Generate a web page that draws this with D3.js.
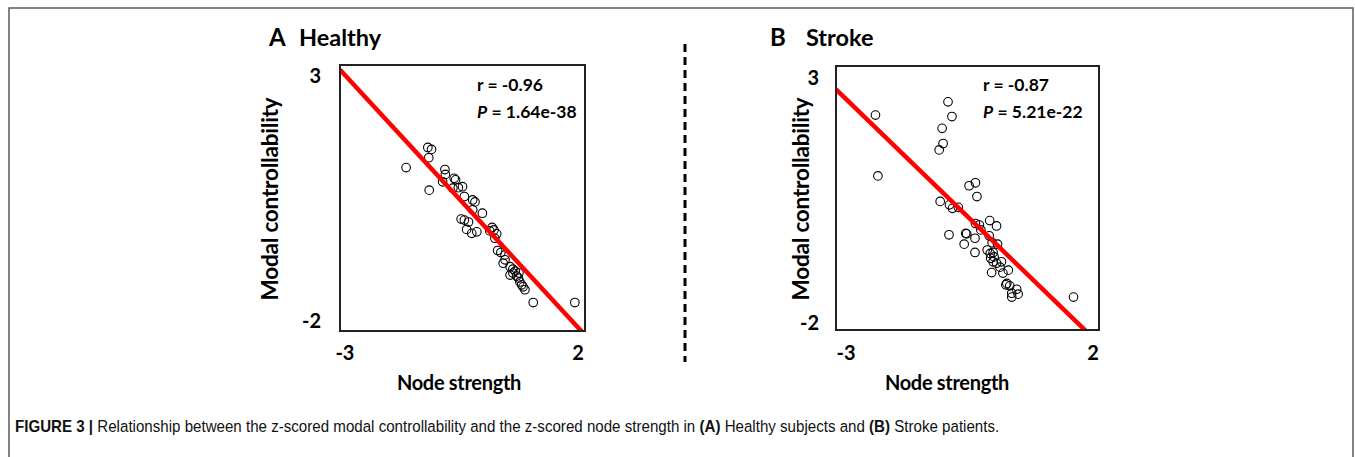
<!DOCTYPE html>
<html>
<head>
<meta charset="utf-8">
<script src="https://cdn.jsdelivr.net/npm/d3@7"></script>
<style>
  body { margin: 0; background: #fff; }
  svg { display: block; }
</style>
</head>
<body>
<svg id="chart" width="1355" height="457"></svg>
<script>
// Chart values
const panelLetters = ["A", "B"];
const panelNames = ["Healthy", "Stroke"];
const xTicks = [-3, 2];
const yTicks = [3, -2];
const rValues = ["-0.96", "-0.87"];
const pValues = ["1.64e-38", "5.21e-22"];
const fitSlopes = [-1.02, -0.966];
const fitIntercepts = [-0.11, -0.39];

// z-scored node strength / modal controllability, healthy subjects
const healthyPoints = [
  [-1.72, 1.11], [-1.25, 1.52], [-1.17, 1.48], [-1.23, 1.31], [-1.22, 0.65],
  [-0.88, 1.07], [-0.87, 0.97], [-0.93, 0.82], [-0.68, 0.89], [-0.65, 0.86],
  [-0.71, 0.69], [-0.59, 0.70], [-0.50, 0.72], [-0.46, 0.52], [-0.28, 0.45],
  [-0.23, 0.41], [-0.28, 0.25], [-0.07, 0.18], [-0.53, 0.06], [-0.46, 0.04],
  [-0.37, 0.00], [-0.41, -0.15], [-0.19, -0.20], [-0.30, -0.23], [0.14, -0.11],
  [0.09, -0.18], [0.18, -0.16], [0.24, -0.24], [0.20, -0.33], [0.26, -0.58],
  [0.33, -0.62], [0.42, -0.67], [0.38, -0.84], [0.42, -0.77], [0.53, -0.91],
  [0.59, -0.96], [0.64, -1.00], [0.53, -1.08], [0.67, -1.10], [0.71, -1.14],
  [0.74, -1.22], [0.78, -1.28], [0.81, -1.32], [0.85, -1.38], [1.03, -1.64],
  [1.93, -1.64], [0.59, -1.04], [0.72, -1.04]
];

// stroke patients
const strokePoints = [
  [-2.44, 2.22], [-2.39, 0.98], [-0.96, 2.49], [-0.88, 2.19], [-1.08, 1.95],
  [-1.06, 1.64], [-1.14, 1.51], [-0.53, 0.78], [-0.40, 0.84], [-0.37, 0.56],
  [-1.12, 0.46], [-0.93, 0.39], [-0.87, 0.32], [-0.75, 0.34], [-0.94, -0.22],
  [-0.60, -0.19], [-0.58, -0.20], [-0.63, -0.41], [-0.41, -0.29], [-0.41, -0.58],
  [-0.40, 0.01], [-0.32, -0.02], [-0.29, -0.12], [-0.11, 0.07], [0.03, -0.04],
  [-0.12, -0.24], [-0.06, -0.38], [0.05, -0.41], [-0.16, -0.53], [-0.10, -0.60],
  [-0.04, -0.58], [-0.09, -0.70], [-0.04, -0.77], [0.03, -0.80], [0.13, -0.77],
  [0.10, -0.88], [-0.07, -0.99], [0.16, -1.00], [0.27, -0.94], [0.24, -1.21],
  [0.30, -1.26], [0.44, -1.33], [0.34, -1.41], [0.47, -1.43], [0.34, -1.49],
  [1.60, -1.49], [-0.02, -0.67], [0.22, -1.24]
];

const pointSets = [healthyPoints, strokePoints];

// Layout
const panels = [
  { box: [340, 65, 585, 331], xDomain: [-3.15, 2.15], yDomain: [-2.22, 3.2],
    titleX: 269, nameX: 299, yLabelX: 278, xLabelX: 459, tickRight: 321, statX: 477 },
  { box: [836, 66, 1099, 330], xDomain: [-3.245, 2.12], yDomain: [-2.16, 3.22],
    titleX: 770, nameX: 806, yLabelX: 809, xLabelX: 947, tickRight: 819, statX: 983 }
];

const FONT = "Lato, 'Open Sans', sans-serif";
const svg = d3.select("#chart");

// outer frame (cut at the bottom)
svg.append("rect")
  .attr("x", 9).attr("y", 8)
  .attr("width", 1344).attr("height", 470)
  .attr("fill", "none").attr("stroke", "#5a5a5a").attr("stroke-width", 1.5);

// dashed separator
svg.append("line")
  .attr("x1", 685).attr("x2", 685).attr("y1", 44).attr("y2", 362)
  .attr("stroke", "#000").attr("stroke-width", 3)
  .attr("stroke-dasharray", "8,5");

panels.forEach((p, i) => {
  const [x0, y0, x1, y1] = p.box;
  const x = d3.scaleLinear().domain(p.xDomain).range([x0, x1]);
  const y = d3.scaleLinear().domain(p.yDomain).range([y1, y0]);
  const g = svg.append("g");

  const clipId = "clip" + i;
  svg.append("clipPath").attr("id", clipId)
    .append("rect").attr("x", x0).attr("y", y0).attr("width", x1 - x0).attr("height", y1 - y0);

  // scatter points
  g.append("g").selectAll("circle")
    .data(pointSets[i])
    .join("circle")
    .attr("cx", d => x(d[0]))
    .attr("cy", d => y(d[1]))
    .attr("r", 4.3)
    .attr("fill", "none")
    .attr("stroke", "#000")
    .attr("stroke-width", 1.1);

  // regression line
  const xs = p.xDomain;
  g.append("line")
    .attr("clip-path", `url(#${clipId})`)
    .attr("x1", x(xs[0])).attr("y1", y(fitIntercepts[i] + fitSlopes[i] * xs[0]))
    .attr("x2", x(xs[1])).attr("y2", y(fitIntercepts[i] + fitSlopes[i] * xs[1]))
    .attr("stroke", "#ff0000").attr("stroke-width", 4.5);

  // box
  g.append("rect")
    .attr("x", x0).attr("y", y0).attr("width", x1 - x0).attr("height", y1 - y0)
    .attr("fill", "none").attr("stroke", "#222").attr("stroke-width", 2);

  // tick labels (no tick marks)
  g.append("g").selectAll("text")
    .data(yTicks)
    .join("text")
    .attr("x", p.tickRight)
    .attr("y", d => y(d) + 1)
    .attr("dy", "0.35em")
    .attr("text-anchor", "end")
    .attr("font-family", FONT).attr("font-weight", 700).attr("font-size", 20)
    .text(d => d);

  g.append("g").selectAll("text")
    .data(xTicks)
    .join("text")
    .attr("x", d => x(d) - (d < 0 ? 2 : 0))
    .attr("y", 360)
    .attr("text-anchor", "middle")
    .attr("font-family", FONT).attr("font-weight", 700).attr("font-size", 20)
    .text(d => d);

  // axis titles
  g.append("text")
    .attr("transform", `translate(${p.yLabelX},${(y0 + y1) / 2 + 1}) rotate(-90)`)
    .attr("text-anchor", "middle")
    .attr("font-family", FONT).attr("font-weight", 700).attr("font-size", 22.5)
    .attr("letter-spacing", -0.2)
    .text("Modal controllability");

  g.append("text")
    .attr("x", p.xLabelX).attr("y", 390)
    .attr("text-anchor", "middle")
    .attr("font-family", FONT).attr("font-weight", 700).attr("font-size", 20)
    .attr("letter-spacing", -0.3)
    .text("Node strength");

  // panel title
  g.append("text")
    .attr("x", p.titleX).attr("y", 46)
    .attr("font-family", FONT).attr("font-weight", 700).attr("font-size", 24)
    .text(panelLetters[i]);
  g.append("text")
    .attr("x", p.nameX).attr("y", 46)
    .attr("font-family", FONT).attr("font-weight", 700).attr("font-size", 23.5)
    .text(panelNames[i]);

  // stats
  g.append("text")
    .attr("x", p.statX).attr("y", 91)
    .attr("font-family", FONT).attr("font-weight", 700).attr("font-size", 17.5)
    .text(`r = ${rValues[i]}`);
  const pt = g.append("text")
    .attr("x", p.statX).attr("y", 118)
    .attr("font-family", FONT).attr("font-weight", 700).attr("font-size", 17.5);
  pt.append("tspan").attr("font-style", "italic").text("P");
  pt.append("tspan").text(` = ${pValues[i]}`);
});

// caption (condensed sans in the original, squeezed horizontally here)
const capX = 15, capWidth = 985;
const cap = svg.append("text")
  .attr("x", 0).attr("y", 0)
  .attr("font-family", "'Liberation Sans', Arial, sans-serif")
  .attr("font-size", 16.5)
  .attr("fill", "#111");
const capParts = [
  ["FIGURE 3 |", true], [" Relationship between the z-scored modal controllability and the z-scored node strength in ", false],
  ["(A)", true], [" Healthy subjects and ", false], ["(B)", true], [" Stroke patients.", false]
];
capParts.forEach(([t, b]) => {
  cap.append("tspan").attr("font-weight", b ? 700 : 400).text(t);
});
const capLen = cap.node().getComputedTextLength();
cap.attr("transform", `translate(${capX},432) scale(${capWidth / capLen},1)`);
</script>
</body>
</html>
